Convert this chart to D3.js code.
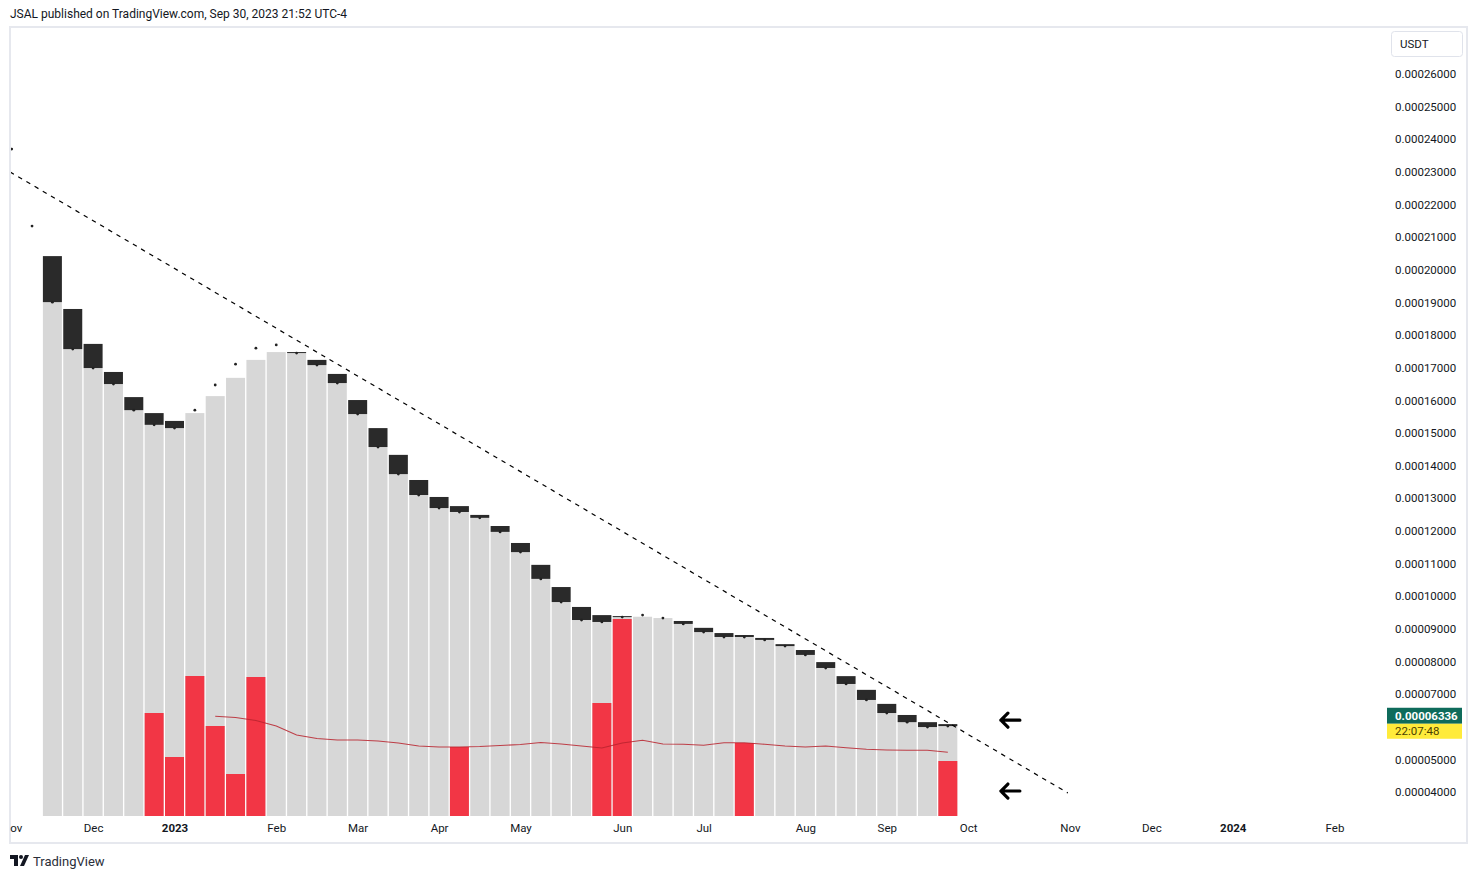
<!DOCTYPE html>
<html><head><meta charset="utf-8">
<script src="https://cdn.jsdelivr.net/npm/d3@7"></script>
<style>
body{margin:0;background:#fff;}
text{font-family:Roboto,"Liberation Sans",sans-serif;}
</style>
</head><body>
<svg id="c" width="1477" height="879"></svg>
<script>
// ---------- DATA ----------
const weeks = ["2022-11-21","2022-11-28","2022-12-05","2022-12-12","2022-12-19","2022-12-26",
"2023-01-02","2023-01-09","2023-01-16","2023-01-23","2023-01-30","2023-02-06","2023-02-13","2023-02-20","2023-02-27",
"2023-03-06","2023-03-13","2023-03-20","2023-03-27","2023-04-03","2023-04-10","2023-04-17","2023-04-24",
"2023-05-01","2023-05-08","2023-05-15","2023-05-22","2023-05-29","2023-06-05","2023-06-12","2023-06-19","2023-06-26",
"2023-07-03","2023-07-10","2023-07-17","2023-07-24","2023-07-31","2023-08-07","2023-08-14","2023-08-21","2023-08-28",
"2023-09-04","2023-09-11","2023-09-18","2023-09-25"];
// prices in units of 1e-5 USDT
const openP = [20.42,18.80,17.73,16.87,16.10,15.61,15.37,15.15,15.61,16.13,16.69,17.24,17.48,17.24,16.81,
16.01,15.15,14.33,13.56,13.04,12.76,12.49,12.15,11.63,10.96,10.28,9.67,9.42,9.39,9.36,9.33,
9.24,9.03,8.87,8.81,8.72,8.53,8.35,7.98,7.55,7.13,6.70,6.36,6.14,6.08];
const closeP = [19.01,17.57,16.99,16.50,15.70,15.25,15.15,15.61,16.13,16.69,17.24,17.48,17.45,17.08,16.53,
15.58,14.57,13.74,13.10,12.70,12.58,12.40,11.97,11.35,10.53,9.82,9.27,9.21,9.36,9.37,9.33,
9.15,8.90,8.75,8.75,8.66,8.47,8.20,7.80,7.31,6.82,6.42,6.14,5.99,6.02];
const dotWeeks = ["2022-11-07","2022-11-14"].concat(weeks);
const dotP = [23.70,21.34,
19.01,17.57,16.99,16.50,15.70,15.25,15.15,15.70,16.47,17.11,17.60,17.70,17.45,17.08,16.53,
15.58,14.57,13.74,13.10,12.70,12.58,12.40,11.97,11.35,10.53,9.82,9.27,9.21,9.36,9.42,9.33,
9.15,8.90,8.75,8.75,8.66,8.47,8.20,7.80,7.31,6.82,6.42,6.14,5.99,6.02];
// highlighted (red) volume columns, other weeks not shown
const volume = [null,null,null,null,null,103,59,140,90,42,139,null,null,null,null,
null,null,null,null,null,69,null,null,null,null,null,null,113,197,null,null,
null,null,null,73,null,null,null,null,null,null,null,null,null,55];
// volume moving average, from week index 8
const volMA = [99.7,98.5,95.5,90,81,77.5,76,76,75,73,70,69,69,69.5,70.5,71.5,73.5,72,70,68,73,75.7,72,
71.7,70.7,73.3,73.3,71.7,70,69,70,68.3,66.7,66,65.7,65.7,63.7];
const volMAStart = 8;
const priceTicks = [26,25,24,23,22,21,20,19,18,17,16,15,14,13,12,11,10,9,8,7,5,4];
const timeTickDates = ["2022-11-07","2022-12-05","2023-01-02","2023-02-06","2023-03-06","2023-04-03","2023-05-01",
"2023-06-05","2023-07-03","2023-08-07","2023-09-04","2023-10-02","2023-11-06","2023-12-04","2024-01-01","2024-02-05"];
const timeTickLabels = ["Nov","Dec","2023","Feb","Mar","Apr","May","Jun","Jul","Aug","Sep","Oct","Nov","Dec","2024","Feb"];
const trendLine = [["2022-11-06T10:00:00Z",23.00],["2023-11-05T07:00:00Z",3.97]];
const arrows = [["2023-10-16",6.20],["2023-10-16",4.03]];
const lastPrice = "0.00006336", countdown = "22:07:48";

// ---------- SCALES ----------
const svg = d3.select("#c");
const E = 1e-5;
const pd = s => new Date(s.length > 10 ? s : s + "T00:00:00Z");
const x = d3.scaleUtc().domain([pd("2023-01-02"), pd("2024-02-05")]).range([174.5, 1334.5]);
const y = d3.scaleLinear().domain([4*E, 26*E]).range([792, 74]);
const plotBottom = 816, plotLeft = 10, plotRight = 1385, plotTop = 28;
const yVol = d3.scaleLinear().domain([0, 100]).range([plotBottom, plotBottom - 100]);
const bw = 19;

// header
svg.append("text").attr("x", 10).attr("y", 18).attr("font-size", 12).attr("fill", "#131722")
  .text("JSAL published on TradingView.com, Sep 30, 2023 21:52 UTC-4");

// frame
svg.append("rect").attr("x", 10).attr("y", 27).attr("width", 1457).attr("height", 816)
  .attr("fill", "none").attr("stroke", "#e6e8ee").attr("stroke-width", 2);

svg.append("clipPath").attr("id", "plot").append("rect")
  .attr("x", plotLeft + 1).attr("y", plotTop).attr("width", plotRight - plotLeft).attr("height", plotBottom - plotTop + 20);
const g = svg.append("g").attr("clip-path", "url(#plot)");

const data = weeks.map((w, i) => ({d: pd(w), o: openP[i]*E, c: closeP[i]*E, v: volume[i]}));

// gray columns
g.selectAll("rect.col").data(data).enter().append("rect").attr("class", "col")
  .attr("x", d => x(d.d) - bw/2).attr("width", bw)
  .attr("y", d => y(d.c)).attr("height", d => plotBottom - y(d.c))
  .attr("fill", "#d7d7d7");
// dark bodies (down weeks)
g.selectAll("rect.body").data(data.filter(d => d.o > d.c)).enter().append("rect").attr("class", "body")
  .attr("x", d => x(d.d) - bw/2).attr("width", bw)
  .attr("y", d => y(d.o)).attr("height", d => Math.max(1, y(d.c) - y(d.o)))
  .attr("fill", "#2a2a2a");
// red volume
g.selectAll("rect.vol").data(data.filter(d => d.v != null)).enter().append("rect").attr("class", "vol")
  .attr("x", d => x(d.d) - bw/2).attr("width", bw)
  .attr("y", d => yVol(d.v)).attr("height", d => plotBottom - yVol(d.v))
  .attr("fill", "#f23645");
// volume MA line
const maData = volMA.map((v, i) => ({d: pd(weeks[i + volMAStart]), v}));
g.append("path").datum(maData)
  .attr("d", d3.line().x(d => x(d.d)).y(d => yVol(d.v)))
  .attr("fill", "none").attr("stroke", "#b8232e").attr("stroke-width", 1.1).attr("opacity", 0.85);
// dots
g.selectAll("circle.dot").data(dotWeeks.map((w, i) => ({d: pd(w), p: dotP[i]*E}))).enter()
  .append("circle").attr("class", "dot")
  .attr("cx", d => x(d.d)).attr("cy", d => y(d.p)).attr("r", 1.4).attr("fill", "#222");
// trend line
g.append("line")
  .attr("x1", x(pd(trendLine[0][0]))).attr("y1", y(trendLine[0][1]*E))
  .attr("x2", x(pd(trendLine[1][0]))).attr("y2", y(trendLine[1][1]*E))
  .attr("stroke", "#000").attr("stroke-width", 1.2).attr("stroke-dasharray", "4.5,5");
// arrows
arrows.forEach(a => {
  const ax = x(pd(a[0])) - 9, ay = y(a[1]*E);
  svg.append("path")
    .attr("d", `M${ax+20},${ay} L${ax+1},${ay} M${ax+8},${ay-7} L${ax+1},${ay} L${ax+8},${ay+7}`)
    .attr("fill", "none").attr("stroke", "#000").attr("stroke-width", 3.2)
    .attr("stroke-linecap", "round").attr("stroke-linejoin", "round");
});

// price axis
const ay = svg.append("g").attr("transform", "translate(1392,0)")
  .call(d3.axisRight(y).tickValues(priceTicks.map(t => t*E)).tickSize(0).tickPadding(3)
    .tickFormat(d3.format(".8f")));
ay.select(".domain").remove();
ay.selectAll("text").attr("font-size", 11.5).attr("fill", "#131722").attr("font-family", "Roboto,sans-serif");

// USDT box
svg.append("rect").attr("x", 1391.5).attr("y", 31.5).attr("width", 71).attr("height", 25).attr("rx", 3)
  .attr("fill", "#fff").attr("stroke", "#e0e3eb");
svg.append("text").attr("x", 1400).attr("y", 48).attr("font-size", 11.5).attr("fill", "#131722").text("USDT");

// last price label
const lp = y(+lastPrice);
svg.append("rect").attr("x", 1387).attr("y", lp - 8).attr("width", 75).attr("height", 16).attr("fill", "#0e6b5b");
svg.append("text").attr("x", 1395).attr("y", lp + 4).attr("font-size", 11.5).attr("font-weight", "bold")
  .attr("fill", "#fff").text(lastPrice);
svg.append("rect").attr("x", 1387).attr("y", lp + 8).attr("width", 75).attr("height", 15).attr("fill", "#ffeb3b");
svg.append("text").attr("x", 1395).attr("y", lp + 19.5).attr("font-size", 11.5).attr("fill", "#4a4000").text(countdown);

// time axis
svg.append("clipPath").attr("id", "tclip").append("rect").attr("x", 10).attr("y", 816).attr("width", 1380).attr("height", 26);
const axOuter = svg.append("g").attr("clip-path", "url(#tclip)");
const ax = axOuter.append("g").attr("transform", `translate(0,${plotBottom + 5})`)
  .call(d3.axisBottom(x).tickValues(timeTickDates.map(pd)).tickSize(0).tickPadding(3)
    .tickFormat((d, i) => timeTickLabels[i]));
ax.select(".domain").remove();
ax.selectAll("text").attr("font-size", 11.5).attr("fill", "#131722").attr("font-family", "Roboto,sans-serif")
  .attr("font-weight", (d, i) => /^\d{4}$/.test(timeTickLabels[i]) ? "bold" : "normal");

// footer logo
const logo = svg.append("g").attr("transform", "translate(10,855)").attr("fill", "#131722");
logo.append("path").attr("d", "M0,0 H8 V11 H4 V4 H0 Z");
logo.append("circle").attr("cx", 11).attr("cy", 2).attr("r", 2);
logo.append("path").attr("d", "M15,0 H19 L14,11 H10 Z");
svg.append("text").attr("x", 33).attr("y", 866).attr("font-size", 13).attr("fill", "#2a2e39").text("TradingView");
</script>
</body></html>
